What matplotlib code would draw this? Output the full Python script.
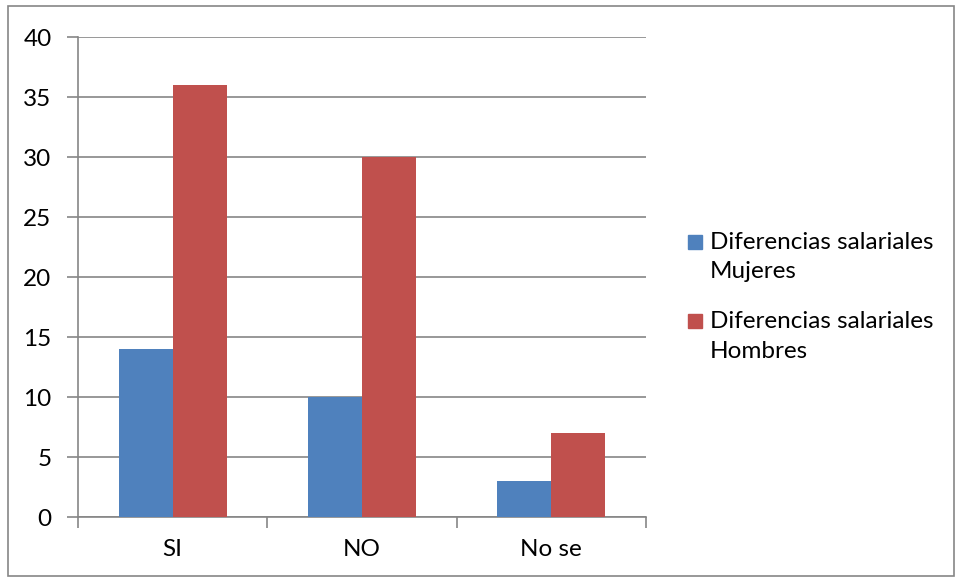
import numpy as np
import matplotlib
matplotlib.use("Agg")
import matplotlib.pyplot as plt
from matplotlib.patches import Rectangle

categories = ["SI", "NO", "No se"]
mujeres = [14, 10, 3]
hombres = [36, 30, 7]
series_labels = ["Diferencias salariales\nMujeres", "Diferencias salariales\nHombres"]
colors = ["#4F81BD", "#C0504D"]

W, H = 958, 579
fig = plt.figure(figsize=(W / 100, H / 100), dpi=100)
plt.rcParams["font.family"] = ["Lato", "DejaVu Sans"]
fs = 17.5

# plot area in pixels: x 78..646, y 37..517
ax = fig.add_axes([78 / W, 1 - 517 / H, (646 - 78) / W, 480 / H])

x = np.arange(len(categories))
bw = 1 / 3.5
ax.bar(x - bw / 2, mujeres, bw, color=colors[0], zorder=3)
ax.bar(x + bw / 2, hombres, bw, color=colors[1], zorder=3)

ax.set_xlim(-0.5, 2.5)
ax.set_ylim(0, 40)
ax.set_yticks(range(0, 41, 5))
ax.grid(axis="y", color="#868686", linewidth=1.2, zorder=0)
ax.set_axisbelow(True)

for s in ["top", "right"]:
    ax.spines[s].set_visible(False)
for s in ["left", "bottom"]:
    ax.spines[s].set_color("#868686")
    ax.spines[s].set_linewidth(1.2)

ax.set_xticks(x)
ax.set_xticklabels(categories)
ax.tick_params(axis="x", length=0, pad=16, labelsize=fs)
ax.set_xticks([-0.5, 0.5, 1.5, 2.5], minor=True)
ax.tick_params(axis="x", which="minor", length=8, color="#868686", width=1.2)
ax.tick_params(axis="y", length=8, color="#868686", width=1.2, pad=11, labelsize=fs)

# legend drawn by hand so the wrapped lines get the wider spacing
for i, (label, color) in enumerate(zip(series_labels, colors)):
    y0 = 242 + 79 * i
    fig.patches.append(Rectangle((688 / W, 1 - (y0 + 7) / H), 14 / W, 14 / H,
                                 transform=fig.transFigure, color=color))
    for k, line in enumerate(label.split("\n")):
        fig.text(710 / W, 1 - (y0 + 30 * k) / H, line, fontsize=fs,
                 ha="left", va="center")

fig.patches.append(Rectangle((8 / W, 3 / H), (954 - 8) / W, (573 - 3) / H,
                             transform=fig.transFigure, fill=False,
                             edgecolor="#868686", linewidth=1.2))

fig.savefig("out.png", dpi=100)
